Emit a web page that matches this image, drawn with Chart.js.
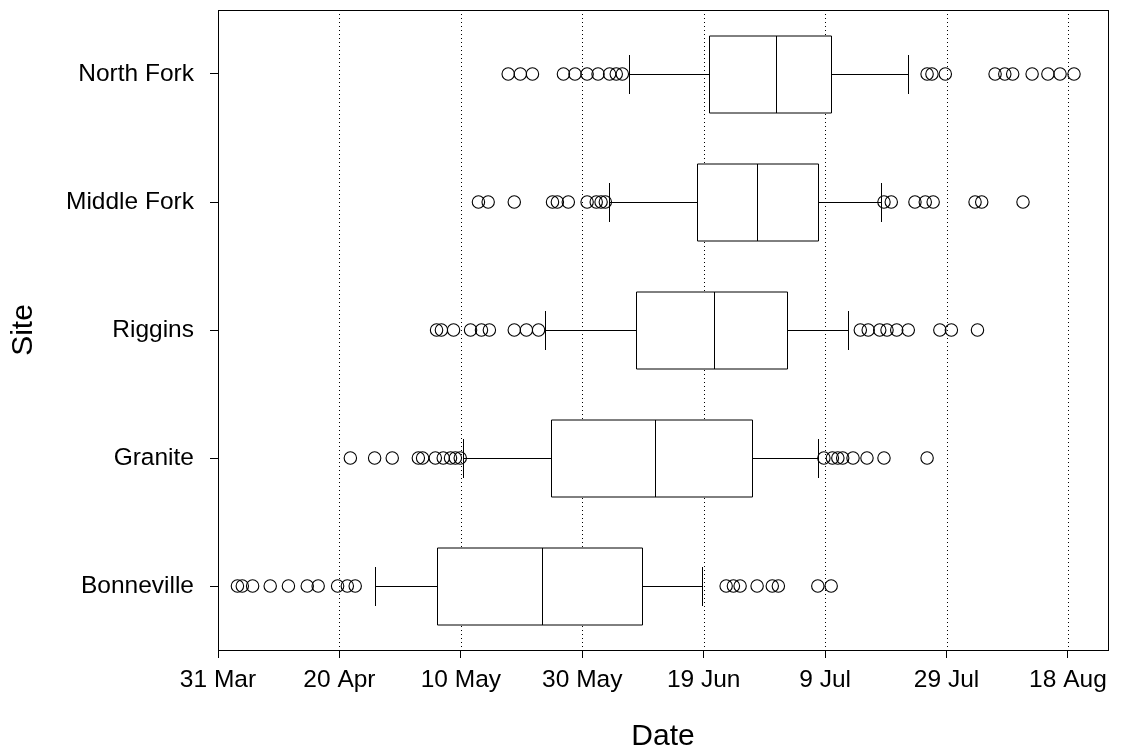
<!DOCTYPE html>
<html><head><meta charset="utf-8">
<script src="https://cdn.jsdelivr.net/npm/chart.js@4.4.0/dist/chart.umd.min.js"></script>
<style>html,body{margin:0;padding:0;background:#fff}#wrap{width:1122px;height:753px}</style>
</head><body><div id="wrap"><canvas id="c" width="1122" height="753"></canvas></div>
<script>
// Sites, bottom to top
const sites = ['Bonneville', 'Granite', 'Riggins', 'Middle Fork', 'North Fork'];
// x values are days after 31 Mar
const tickDays = [0, 20, 40, 60, 80, 100, 120, 140];
const tickLabels = ['31 Mar', '20 Apr', '10 May', '30 May', '19 Jun', '9 Jul', '29 Jul', '18 Aug'];

const whiskerLow  = [25.8, 40.4, 53.9, 64.4, 67.7];
const q1          = [36.0, 54.9, 68.9, 78.9, 80.9];
const median      = [53.4, 71.9, 81.7, 88.8, 91.9];
const q3          = [69.9, 88.0, 93.7, 98.8, 101.0];
const whiskerHigh = [79.8, 98.8, 103.8, 109.2, 113.7];

const outBonneville = [3.2, 4.0, 5.7, 8.6, 11.6, 14.7, 16.5, 19.7, 21.3, 22.6, 83.7, 84.9, 86.0, 88.8, 91.3, 92.3, 98.8, 101.0];
const outGranite    = [21.8, 25.8, 28.7, 33.0, 33.7, 35.8, 37.1, 38.3, 39.1, 39.9, 99.8, 101.2, 102.1, 102.9, 104.6, 106.9, 109.7, 116.8];
const outRiggins    = [36.0, 36.8, 38.8, 41.6, 43.4, 44.7, 48.8, 50.8, 52.8, 105.8, 107.1, 109.0, 110.2, 111.8, 113.7, 118.9, 120.8, 125.1];
const outMiddleFork = [42.9, 44.5, 48.8, 55.1, 55.9, 57.7, 60.8, 62.3, 63.1, 63.8, 109.7, 110.9, 114.8, 116.5, 117.8, 124.7, 125.8, 132.6];
const outNorthFork  = [47.8, 49.8, 51.8, 56.9, 58.8, 60.8, 62.6, 64.5, 65.6, 66.6, 116.8, 117.6, 119.8, 128.0, 129.6, 130.9, 134.1, 136.7, 138.7, 141.0];
const outliers = [outBonneville, outGranite, outRiggins, outMiddleFork, outNorthFork];

const FONT = "'Liberation Sans', Arial, Helvetica, sans-serif";

const outlierPoints = [];
outliers.forEach((arr, i) => arr.forEach(d => outlierPoints.push({x: d, y: i + 1})));

const boxPlugin = {
  id: 'boxPlugin',
  beforeDatasetsDraw(chart) {
    const {ctx, chartArea: a, scales: {x, y}} = chart;
    ctx.save();
    ctx.strokeStyle = '#000';
    ctx.lineWidth = 1;
    ctx.setLineDash([1, 3]);
    tickDays.forEach(d => {
      const px = Math.round(x.getPixelForValue(d)) + 0.5;
      ctx.beginPath(); ctx.moveTo(px, a.top); ctx.lineTo(px, a.bottom); ctx.stroke();
    });
    ctx.setLineDash([]);
    const half = (y.getPixelForValue(1) - y.getPixelForValue(1.3));
    const staple = half / 2;
    for (let i = 0; i < sites.length; i++) {
      const cy = Math.round(y.getPixelForValue(i + 1)) + 0.5;
      const xl = Math.round(x.getPixelForValue(q1[i])) + 0.5;
      const xm = Math.round(x.getPixelForValue(median[i])) + 0.5;
      const xr = Math.round(x.getPixelForValue(q3[i])) + 0.5;
      const wl = Math.round(x.getPixelForValue(whiskerLow[i])) + 0.5;
      const wh = Math.round(x.getPixelForValue(whiskerHigh[i])) + 0.5;
      const top = Math.round(cy - half), bot = Math.round(cy + half);
      ctx.fillStyle = '#fff';
      ctx.fillRect(xl, top, xr - xl, bot - top);
      ctx.beginPath();
      ctx.rect(xl, top, xr - xl, bot - top);
      ctx.moveTo(xm, top); ctx.lineTo(xm, bot);
      ctx.moveTo(wl, cy); ctx.lineTo(xl, cy);
      ctx.moveTo(xr, cy); ctx.lineTo(wh, cy);
      ctx.moveTo(wl, Math.round(cy - staple)); ctx.lineTo(wl, Math.round(cy + staple));
      ctx.moveTo(wh, Math.round(cy - staple)); ctx.lineTo(wh, Math.round(cy + staple));
      ctx.stroke();
    }
    ctx.restore();
  },
  afterDraw(chart) {
    const {ctx, chartArea: a} = chart;
    ctx.save();
    ctx.strokeStyle = '#000';
    ctx.lineWidth = 1;
    ctx.strokeRect(Math.round(a.left) + 0.5, Math.round(a.top) + 0.5, Math.round(a.right - a.left), Math.round(a.bottom - a.top));
    ctx.restore();
  }
};

new Chart(document.getElementById('c'), {
  type: 'scatter',
  data: {
    datasets: [{
      label: 'Outliers',
      data: outlierPoints,
      pointStyle: 'circle',
      pointRadius: 6.2,
      pointBorderWidth: 1.1,
      pointBorderColor: '#000',
      pointBackgroundColor: 'rgba(0,0,0,0)',
      showLine: false
    }]
  },
  options: {
    responsive: false,
    animation: false,
    devicePixelRatio: 1,
    layout: {padding: {top: 10, right: 14, left: 0, bottom: 0}},
    plugins: {legend: {display: false}, tooltip: {enabled: false}},
    scales: {
      x: {
        type: 'linear', min: 0, max: 146.6,
        afterBuildTicks: s => { s.ticks = tickDays.map(v => ({value: v})); },
        afterFit: s => { s.height = 103; s.paddingLeft = 0; s.paddingRight = 0; },
        ticks: {
          autoSkip: false, maxRotation: 0, padding: 8, color: '#000',
          font: {family: FONT, size: 24.5},
          callback: v => tickLabels[tickDays.indexOf(v)]
        },
        grid: {drawOnChartArea: false, drawTicks: true, tickLength: 8, tickColor: '#000', tickWidth: 1},
        border: {display: false},
        title: {display: true, text: 'Date', color: '#000', font: {family: FONT, size: 30, lineHeight: 1}, padding: {top: 0, bottom: 1}}
      },
      y: {
        type: 'linear', min: 0.5, max: 5.5,
        afterBuildTicks: s => { s.ticks = [1, 2, 3, 4, 5].map(v => ({value: v})); },
        afterFit: s => { s.width = 218; s.paddingTop = 0; s.paddingBottom = 0; },
        ticks: {
          autoSkip: false, padding: 16, color: '#000',
          font: {family: FONT, size: 24.5},
          callback: v => sites[v - 1]
        },
        grid: {drawOnChartArea: false, drawTicks: true, tickLength: 8, tickColor: '#000', tickWidth: 1},
        border: {display: false},
        title: {display: true, text: 'Site', color: '#000', font: {family: FONT, size: 30, lineHeight: 1}, padding: {top: 8.5, bottom: 0}}
      }
    }
  },
  plugins: [boxPlugin]
});
</script>
</body></html>
